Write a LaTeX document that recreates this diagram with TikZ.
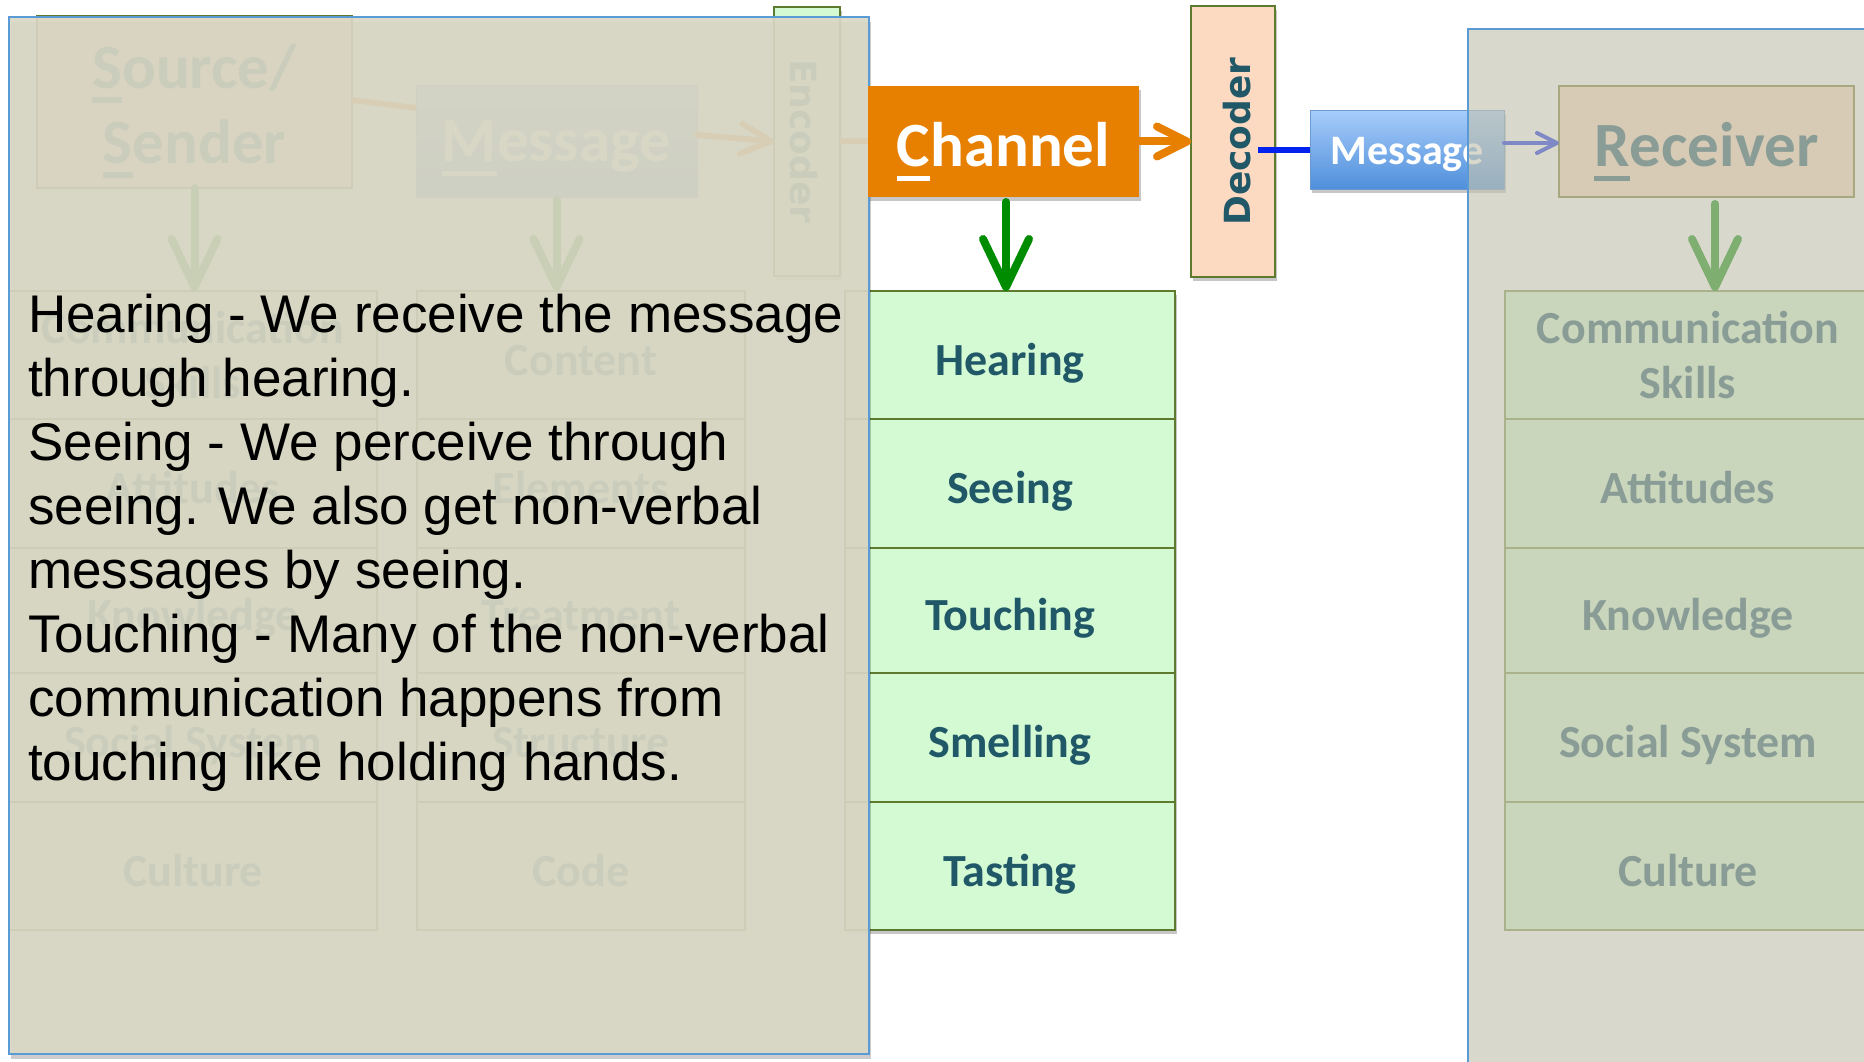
\documentclass[tikz,border=0pt]{standalone}
\usepackage{fontspec}
\usetikzlibrary{arrows.meta,shadows}
\newfontfamily\arialf{Liberation Sans}
\newfontfamily\calf{Carlito}
\newfontfamily\dejf{DejaVu Sans}
\newcommand\myul[1]{\setbox0\hbox{#1}\rlap{\rule[-0.22em]{\wd0}{0.08em}}\box0}
\newcommand\fnA{\arialf\fontsize{53}{64}\selectfont}
\newcommand\fnB{\calf\bfseries\fontsize{46}{55}\selectfont}
\newcommand\fnC{\calf\bfseries\fontsize{63}{75}\selectfont}
\newcommand\fnM{\calf\bfseries\fontsize{42}{50}\selectfont}
\newcommand\fnD{\dejf\bfseries\fontsize{36}{43}\selectfont}
\definecolor{orng}{HTML}{E77F00}
\definecolor{grn}{HTML}{008C00}
\definecolor{lgrn}{HTML}{D4FAD4}
\definecolor{olv}{HTML}{5E7A2E}
\definecolor{olv2}{HTML}{75782A}
\definecolor{olv3}{HTML}{7B944B}
\definecolor{tealtx}{HTML}{215868}
\definecolor{peach}{HTML}{FCDAC2}
\definecolor{blu}{HTML}{0022EE}
\definecolor{mtop}{HTML}{A6CCFA}
\definecolor{mbot}{HTML}{4F8FDB}
\definecolor{mbrd}{HTML}{6A9AD0}
\definecolor{ovl}{HTML}{DAD8C5}
\definecolor{ovr}{HTML}{C4C3B0}
\definecolor{ovb}{HTML}{5B9BD5}
\pgfdeclarelayer{lay0}
\pgfdeclarelayer{lay1}
\pgfdeclarelayer{lay2}
\pgfdeclarelayer{lay3}
\pgfsetlayers{lay0,lay1,main,lay2,lay3}
\begin{document}
\begin{tikzpicture}[x=1pt,y=-1pt,
  bx/.style={anchor=north west,inner sep=0pt,outer sep=0pt},
  gcell/.style={bx,fill=lgrn,draw=olv,line width=2.2pt,text=tealtx,font=\fnB},
  onel/.style={text height=43.7pt,text depth=3.7pt},
  twol/.style={align=center},
  bigt/.style={font=\fnC,text height=55.4pt,text depth=5pt},
  shad/.style={drop shadow={shadow xshift=2pt,shadow yshift=-4pt,opacity=0.22,fill=black}},
  garr/.style={draw=grn,line width=8pt,line cap=round,-{Straight Barb[length=48pt,width=46pt,round]}},
  oarr/.style={draw=orng,line width=8pt,line cap=round,-{Straight Barb[length=30pt,width=30pt,round]}},
  oline/.style={draw=orng,line width=6pt},
  bline/.style={draw=blu,line width=6pt},
  barr/.style={draw=blu,line width=4pt,line cap=round,-{Straight Barb[length=20pt,width=20pt,round]}},
  rottxt/.style={font=\fnD,text=tealtx,text height=36pt,text depth=2pt,inner sep=0pt},
]
\useasboundingbox (0,0) rectangle (1864,1062);

% ---------- left (under overlay) ----------
\begin{pgfonlayer}{lay0}
\fill[white] (0,0) rectangle (1864,1062);
\node[bx,fill=peach,draw=olv,line width=2pt,minimum width=315pt,minimum height=172pt] (src) at (37,16) {};
\node[text=tealtx,font=\fnC,align=center,inner sep=0pt] (srct) at (194.5,111) {\myul{S}ource/\\\myul{S}ender};
\node[bx,top color=mtop,bottom color=mbot,draw=mbrd,line width=1pt,text=white,font=\fnC,text height=46pt,text depth=5pt,minimum width=281pt,minimum height=111pt] (msgl) at (416,86) {\myul{M}essage};
\node[bx,fill=lgrn,draw=olv,line width=2pt,minimum width=66pt,minimum height=269pt,shad] (enc) at (774,7) {};
\node[rottxt,rotate=-90] (enct) at (enc.center) {Encoder};

\node[gcell,twol,minimum width=368pt,minimum height=128pt] (a1) at (9,291) {Communication\\Skills};
\node[gcell,onel,minimum width=368pt,minimum height=129pt] (a2) at (9,419) {Attitudes};
\node[gcell,onel,minimum width=368pt,minimum height=125pt] (a3) at (9,548) {Knowledge};
\node[gcell,onel,minimum width=368pt,minimum height=129pt] (a4) at (9,673) {Social System};
\node[gcell,onel,minimum width=368pt,minimum height=128pt] (a5) at (9,802) {Culture};

\node[gcell,onel,minimum width=328pt,minimum height=128pt] (b1) at (417,291) {Content};
\node[gcell,onel,minimum width=328pt,minimum height=129pt] (b2) at (417,419) {Elements};
\node[gcell,onel,minimum width=328pt,minimum height=125pt] (b3) at (417,548) {Treatment};
\node[gcell,onel,minimum width=328pt,minimum height=129pt] (b4) at (417,673) {Structure};
\node[gcell,onel,minimum width=328pt,minimum height=128pt] (b5) at (417,802) {Code};

\node[gcell,onel,shad,minimum width=330pt,minimum height=128pt] (hear) at (845,291) {Hearing};
\node[gcell,onel,shad,minimum width=330pt,minimum height=129pt] (see) at (845,419) {Seeing};
\node[gcell,onel,shad,minimum width=330pt,minimum height=125pt] (touch) at (845,548) {Touching};
\node[gcell,onel,shad,minimum width=330pt,minimum height=129pt] (smell) at (845,673) {Smelling};
\node[gcell,onel,shad,minimum width=330pt,minimum height=128pt] (taste) at (845,802) {Tasting};
\end{pgfonlayer}

% ---------- main ----------
\node[bx,fill=orng,text=white,bigt,minimum width=271pt,minimum height=111pt,shad] (chan) at (868,86) {\myul{C}hannel};
\node[bx,fill=peach,draw=olv,line width=2pt,minimum width=84pt,minimum height=271pt,shad] (dec) at (1191,6) {};
\node[rottxt,rotate=90] (dect) at (dec.center) {Decoder};
\node[bx,top color=mtop,bottom color=mbot,draw=mbrd,line width=1pt,text=white,font=\fnM,text height=31.5pt,text depth=3.4pt,minimum width=194pt,minimum height=78pt,shad] (msg) at (1310,111) {Message};
\node[bx,fill=peach,draw=olv2,line width=2pt,text=tealtx,bigt,minimum width=295pt,minimum height=111pt] (rec) at (1559,86) {\myul{R}eceiver};

\node[gcell,twol,draw=olv3,minimum width=366pt,minimum height=128pt] (r1) at (1505,291) {Communication\\Skills};
\node[gcell,onel,draw=olv3,minimum width=366pt,minimum height=129pt] (r2) at (1505,419) {Attitudes};
\node[gcell,onel,draw=olv3,minimum width=366pt,minimum height=125pt] (r3) at (1505,548) {Knowledge};
\node[gcell,onel,draw=olv3,minimum width=366pt,minimum height=129pt] (r4) at (1505,673) {Social System};
\node[gcell,onel,draw=olv3,minimum width=366pt,minimum height=128pt] (r5) at (1505,802) {Culture};

\begin{pgfonlayer}{lay0}
\draw[oline] ([yshift=2pt]src.east) -- ([yshift=33.5pt]msgl.west);
\draw[oarr,line width=6pt] ([yshift=6.5pt]msgl.east) -- (enc.west);
\draw[oline] (enc.east) -- (chan.west);
\draw[garr] (src.south) -- (src.south |- a1.north);
\draw[garr] ([yshift=-3pt]msgl.south) -- (msgl.south |- b1.north);
\end{pgfonlayer}

\draw[oarr] (chan.east) -- (dec.west);
\draw[garr] ([xshift=2.5pt,yshift=-5pt]chan.south) coordinate (ga) -- (ga |- hear.north);
\draw[bline] ([xshift=-17pt]dec.east |- msg.west) -- (msg.west);
\draw[barr] ([yshift=7pt]msg.east) -- ([yshift=7pt]msg.east -| rec.west);
\draw[garr] ([xshift=8.5pt,yshift=-7pt]rec.south) coordinate (gb) -- (gb |- r1.north);

% ---------- overlays ----------
\begin{pgfonlayer}{lay1}
\node[bx,fill=ovl,fill opacity=0.92,draw=ovb,line width=1.5pt,minimum width=860pt,minimum height=1037pt,drop shadow={shadow xshift=2pt,shadow yshift=-5pt,opacity=0.2,fill=black}] (ovleft) at (9,17) {};
\end{pgfonlayer}
\begin{pgfonlayer}{lay2}
\node[bx,fill=ovr,fill opacity=0.645,draw=ovb,line width=1.5pt,minimum width=420pt,minimum height=1050pt] (ovright) at (1468,29) {};
\end{pgfonlayer}
\begin{pgfonlayer}{lay3}
\node[anchor=north west,inner sep=0pt,align=left,font=\fnA,text=black] (note) at (28,294) {Hearing - We receive the message\\through hearing.\\Seeing - We perceive through\\seeing. We also get non-verbal\\messages by seeing.\\Touching - Many of the non-verbal\\communication happens from\\touching like holding hands.};
\end{pgfonlayer}
\end{tikzpicture}
\end{document}
